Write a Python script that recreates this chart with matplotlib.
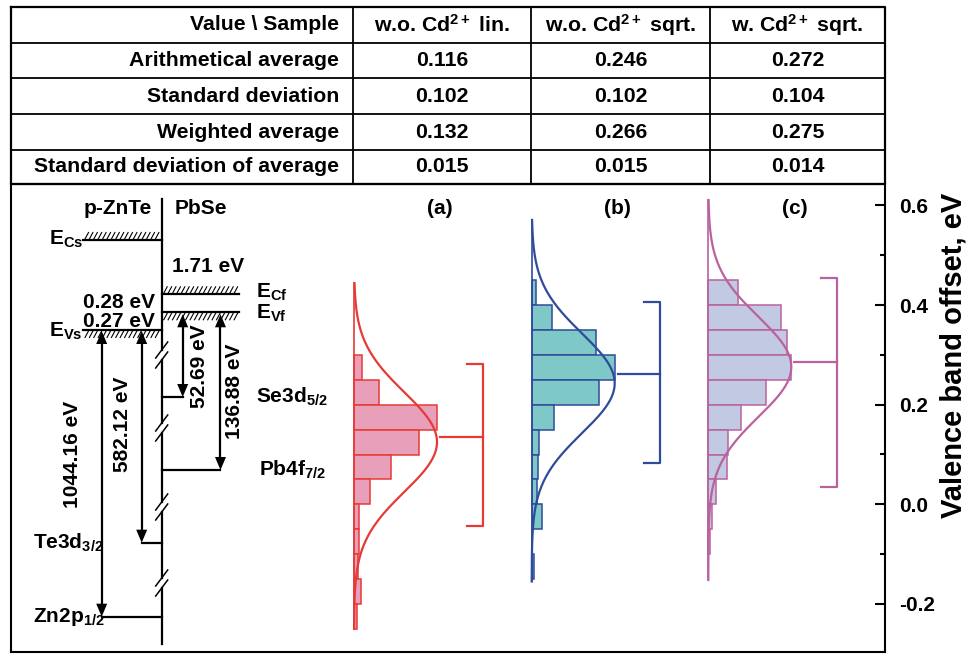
import numpy as np
import matplotlib.pyplot as plt

plt.rcParams['font.family'] = ['Liberation Sans', 'DejaVu Sans']
plt.rcParams['font.weight'] = 'bold'
plt.rcParams['mathtext.fontset'] = 'custom'
plt.rcParams['mathtext.rm'] = 'Liberation Sans:bold'
plt.rcParams['mathtext.bf'] = 'Liberation Sans:bold'
plt.rcParams['mathtext.it'] = 'Liberation Sans:bold'

# ---- table data
row_names = ['Arithmetical average', 'Standard deviation', 'Weighted average',
             'Standard deviation of average']
col_names = ['w.o. Cd$^{2+}$ lin.', 'w.o. Cd$^{2+}$ sqrt.', 'w. Cd$^{2+}$ sqrt.']
tab_lin = ['0.116', '0.102', '0.132', '0.015']
tab_sqrt = ['0.246', '0.102', '0.266', '0.015']
tab_cd = ['0.272', '0.104', '0.275', '0.014']

# ---- histogram data (lower bin edge, relative count), bin width 0.05 eV
panels = ['(a)', '(b)', '(c)']
edges_a = [0.25, 0.20, 0.15, 0.10, 0.05, 0.00, -0.05, -0.10, -0.15, -0.20, -0.25]
counts_a = [0.10, 0.30, 1.00, 0.78, 0.44, 0.19, 0.065, 0.065, 0.052, 0.08, 0.033]
edges_b = [0.40, 0.35, 0.30, 0.25, 0.20, 0.15, 0.10, 0.05, 0.00, -0.05, -0.10, -0.15]
counts_b = [0.05, 0.24, 0.77, 1.00, 0.81, 0.27, 0.09, 0.07, 0.06, 0.12, 0.0, 0.033]
edges_c = [0.40, 0.35, 0.30, 0.25, 0.20, 0.15, 0.10, 0.05, 0.00, -0.05, -0.10]
counts_c = [0.36, 0.88, 0.95, 1.00, 0.70, 0.39, 0.24, 0.22, 0.09, 0.05, 0.025]

# gaussian fits: mean, sigma, drawn range
fit_a = (0.125, 0.10, -0.25, 0.444)
fit_b = (0.243, 0.10, -0.155, 0.571)
fit_c = (0.276, 0.10, -0.152, 0.611)

# brackets: top, middle, bottom
brk_a = (0.282, 0.136, -0.043)
brk_b = (0.406, 0.261, 0.082)
brk_c = (0.455, 0.285, 0.035)

fills = ['#e89fba', '#7ec8c8', '#c2c9e3']
lines = ['#e63a36', '#2f4b9b', '#b9629f']

W, H = 969, 654
fig = plt.figure(figsize=(W / 100, H / 100), dpi=100)

# ---- lower panel: data axes (x in pixel units, y in eV)
top_px, bot_px, left_px, right_px = 184.3, 652, 11, 885
ax = fig.add_axes([left_px / W, 1 - bot_px / H, (right_px - left_px) / W,
                   (bot_px - top_px) / H])
ax.set_facecolor('none')
ax.set_xlim(left_px, right_px)
y0_px, px_per_01 = 504.3, 49.8
ax.set_ylim((y0_px - bot_px) / px_per_01 / 10, (y0_px - top_px) / px_per_01 / 10)
for s in ax.spines.values():
    s.set_linewidth(1.5)
ax.set_xticks([])
ax.yaxis.tick_right()
ax.set_yticks([-0.2, 0.0, 0.2, 0.4, 0.6])
ax.set_yticklabels(['-0.2', '0.0', '0.2', '0.4', '0.6'])
ax.set_yticks([-0.1, 0.1, 0.3, 0.5], minor=True)
ax.tick_params(axis='y', which='major', direction='in', length=7.5, width=1.5,
               labelsize=15, pad=10)
ax.tick_params(axis='y', which='minor', direction='in', length=3.8, width=1.5)

bases = [354, 531.7, 708.3]
scale = 83
for i, (edges, counts, fit, brk) in enumerate([(edges_a, counts_a, fit_a, brk_a),
                                                (edges_b, counts_b, fit_b, brk_b),
                                                (edges_c, counts_c, fit_c, brk_c)]):
    b = bases[i]
    mu, sd, lo, hi = fit
    ax.barh(edges, np.array(counts) * scale, height=0.05, left=b, align='edge',
            color=fills[i], edgecolor=lines[i], linewidth=1.1, zorder=2)
    ax.plot([b, b], [lo, hi], color=lines[i], lw=1.2, zorder=3)
    yy = np.linspace(lo, hi, 400)
    ax.plot(b + scale * np.exp(-(yy - mu) ** 2 / (2 * sd ** 2)), yy,
            color=lines[i], lw=1.6, zorder=3)
    t, m, bt = brk
    ax.plot([b + 112.7, b + 128.5, b + 128.5, b + 112.7], [t, t, bt, bt],
            color=lines[i], lw=1.6)
    ax.plot([b + 86, b + 128.5], [m, m], color=lines[i], lw=1.6)

# ---- overlay canvas in pixel coordinates
cv = fig.add_axes([0, 0, 1, 1])
cv.set_xlim(0, W)
cv.set_ylim(H, 0)
cv.axis('off')

# table grid
k = dict(color='black', lw=1.3)
cv.plot([11, 885, 885, 11, 11], [6.7, 6.7, 184.3, 184.3, 6.7], color='black', lw=1.6)
for y in [42.7, 78.3, 114, 150]:
    cv.plot([11, 885], [y, y], **k)
for x in [353, 531, 710]:
    cv.plot([x, x], [6.7, 184.3], **k)
row_y = [24.7, 60.5, 96.2, 132, 167]
col_x = [442, 620.5, 797.5]
tfs = 15.3
cv.text(339, row_y[0], 'Value \\ Sample', ha='right', va='center', fontsize=tfs)
for j, c in enumerate(col_names):
    cv.text(col_x[j], row_y[0], c, ha='center', va='center', fontsize=tfs)
for r, name in enumerate(row_names):
    cv.text(339, row_y[r + 1], name, ha='right', va='center', fontsize=tfs)
    for j, col in enumerate([tab_lin, tab_sqrt, tab_cd]):
        cv.text(col_x[j], row_y[r + 1], col[r], ha='center', va='center', fontsize=tfs)

fs = 15
# panel letters
for lab, x in zip(panels, [440, 617, 795]):
    cv.text(x, 208, lab, ha='center', va='center', fontsize=fs)

# ---- band diagram
xi = 161.7
lw = 1.6
breaks = [355, 428, 507, 583]
ys = [199]
for yb in breaks:
    ys += [yb - 5, yb + 5]
ys.append(644)
for y1, y2 in zip(ys[0::2], ys[1::2]):
    cv.plot([xi, xi], [y1, y2], color='black', lw=lw)
for yb in breaks:
    for d in (-5, 5):
        cv.plot([xi - 6, xi + 6], [yb + d + 8, yb + d - 8], color='black', lw=1.1)


def hatch(x0, x1, y, up):
    for x in np.arange(x0 + 2, x1 - 3, 4.4):
        if up:
            cv.plot([x, x + 3.5], [y - 1, y - 7.5], color='black', lw=0.8)
        else:
            cv.plot([x, x + 3.5], [y + 7.5, y + 1], color='black', lw=0.8)


def head(x, ytip, down):
    h, w = 13, 5.5
    d = -1 if down else 1
    cv.fill([x, x - w, x + w], [ytip, ytip + d * h, ytip + d * h], color='black', lw=0)


def arrow(x, ytop, ybot):
    cv.plot([x, x], [ytop + 10, ybot - 10], color='black', lw=lw)
    head(x, ytop, False)
    head(x, ybot, True)


E_Cs, E_Cf, E_Vf, E_Vs = 240, 294.3, 312.3, 330
Se3d, Pb4f, Te3d, Zn2p = 397, 470, 542.7, 616.7

cv.plot([83, xi], [E_Cs, E_Cs], color='black', lw=lw)
hatch(83, xi, E_Cs, True)
cv.plot([83, xi], [E_Vs, E_Vs], color='black', lw=lw)
hatch(83, xi, E_Vs, False)
cv.plot([xi, 239], [E_Cf, E_Cf], color='black', lw=lw)
hatch(xi, 239, E_Cf, True)
cv.plot([xi, 239], [E_Vf, E_Vf], color='black', lw=lw)
hatch(xi, 239, E_Vf, False)

arrow(101.7, E_Vs + 1, Zn2p)
arrow(141.7, E_Vs + 1, Te3d)
arrow(182.7, E_Vf + 2, Se3d)
arrow(220.5, E_Vf + 2, Pb4f)
cv.plot([101.7, xi], [Zn2p, Zn2p], color='black', lw=lw)
cv.plot([141.7, xi], [Te3d, Te3d], color='black', lw=lw)
cv.plot([xi, 182.7], [Se3d, Se3d], color='black', lw=lw)
cv.plot([xi, 220.5], [Pb4f, Pb4f], color='black', lw=lw)

cv.text(152, 208, 'p-ZnTe', ha='right', va='center', fontsize=fs)
cv.text(175, 208, 'PbSe', ha='left', va='center', fontsize=fs)
cv.text(49, 245, 'E$_{Cs}$', ha='left', va='baseline', fontsize=fs)
cv.text(49, 337, 'E$_{Vs}$', ha='left', va='baseline', fontsize=fs)
cv.text(256, 298, 'E$_{Cf}$', ha='left', va='baseline', fontsize=fs)
cv.text(256, 319, 'E$_{Vf}$', ha='left', va='baseline', fontsize=fs)
cv.text(172, 266, '1.71 eV', ha='left', va='center', fontsize=fs)
cv.text(155, 303, '0.28 eV', ha='right', va='center', fontsize=fs)
cv.text(155, 321.5, '0.27 eV', ha='right', va='center', fontsize=fs)
cv.text(73, 454, '1044.16 eV', ha='center', va='center', rotation=90, fontsize=fs)
cv.text(123, 424, '582.12 eV', ha='center', va='center', rotation=90, fontsize=fs)
cv.text(200, 366, '52.69 eV', ha='center', va='center', rotation=90, fontsize=fs)
cv.text(235, 391, '136.88 eV', ha='center', va='center', rotation=90, fontsize=fs)
cv.text(256, Se3d, 'Se3d$_{5/2}$', ha='left', va='center', fontsize=fs)
cv.text(259, Pb4f, 'Pb4f$_{7/2}$', ha='left', va='center', fontsize=fs)
cv.text(33, Te3d, 'Te3d$_{3/2}$', ha='left', va='center', fontsize=fs)
cv.text(33, Zn2p, 'Zn2p$_{1/2}$', ha='left', va='center', fontsize=fs)

cv.text(962, 355, 'Valence band offset, eV', ha='center', va='baseline',
        rotation=90, rotation_mode='anchor', fontsize=21)

fig.savefig('out.png', dpi=100)
